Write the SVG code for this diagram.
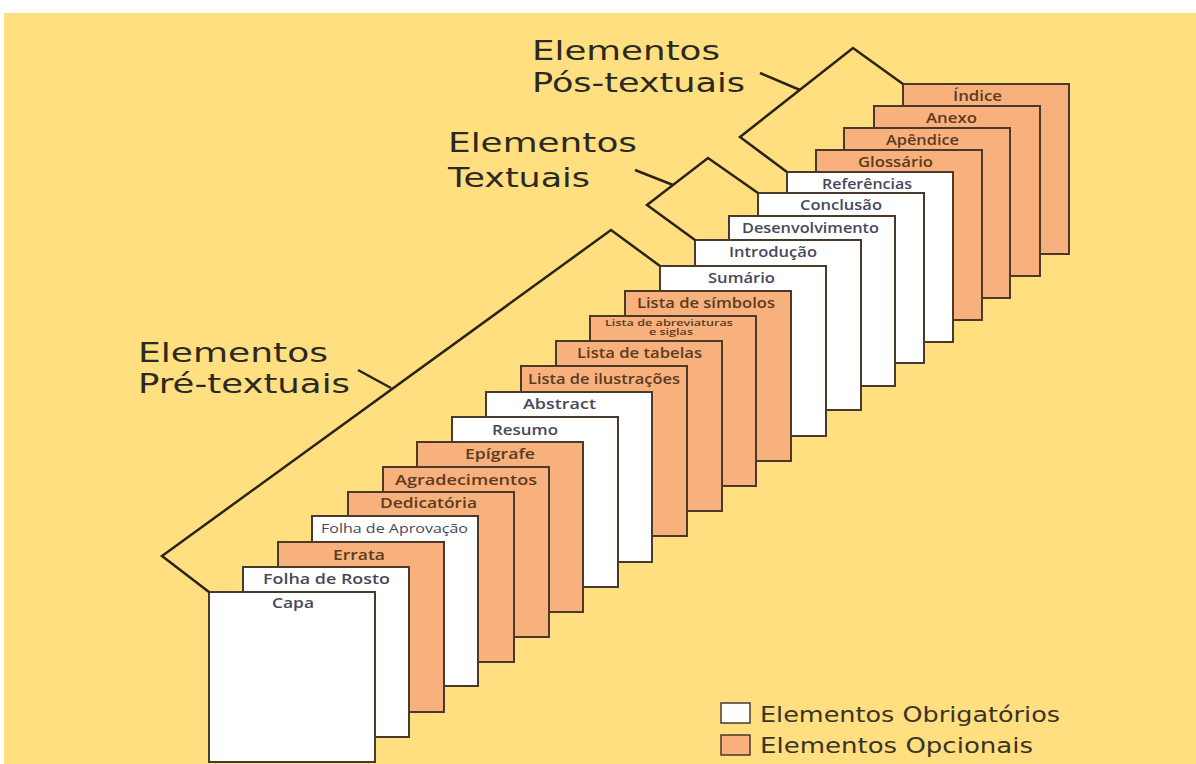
<svg xmlns="http://www.w3.org/2000/svg" width="1196" height="764" viewBox="0 0 1196 764">
<style>
.pg{stroke:#4a3a2b;stroke-width:2}
.w{fill:#ffffff}
.o{fill:#f8b17c}
.lb{font-family:"Open Sans","Liberation Sans",sans-serif;font-weight:600;font-size:13.5px}
.sm{font-size:8.5px}
.lw{fill:#48475a}
.lo{fill:#5a3b22}
.big{font-family:"DejaVu Sans","Liberation Sans",sans-serif;font-size:27px;fill:#2b2a22}
.leg{font-family:"DejaVu Sans","Liberation Sans",sans-serif;font-size:21px;fill:#3a3326}
.br{fill:none;stroke:#2b2417;stroke-width:2.5;stroke-linejoin:miter}
</style>
<rect x="0" y="0" width="1196" height="764" fill="#ffffff"/>
<rect x="4" y="13" width="1192" height="751" fill="#ffdf80"/>

<g id="indice"><rect class="pg o" x="903" y="84" width="166" height="170"/><text class="lb lo" x="953" y="101" textLength="49" lengthAdjust="spacingAndGlyphs">Índice</text></g>
<g id="anexo"><rect class="pg o" x="874" y="106" width="166" height="170"/><text class="lb lo" x="926" y="123" textLength="51" lengthAdjust="spacingAndGlyphs">Anexo</text></g>
<g id="apendice"><rect class="pg o" x="844" y="128" width="166" height="170"/><text class="lb lo" x="886" y="145" textLength="73" lengthAdjust="spacingAndGlyphs">Apêndice</text></g>
<g id="glossario"><rect class="pg o" x="816" y="150" width="166" height="170"/><text class="lb lo" x="858" y="167" textLength="75" lengthAdjust="spacingAndGlyphs">Glossário</text></g>
<g id="referencias"><rect class="pg w" x="787" y="172" width="166" height="170"/><text class="lb lw" x="822" y="189" textLength="90" lengthAdjust="spacingAndGlyphs">Referências</text></g>
<g id="conclusao"><rect class="pg w" x="758" y="193" width="166" height="170"/><text class="lb lw" x="800" y="210" textLength="82" lengthAdjust="spacingAndGlyphs">Conclusão</text></g>
<g id="desenvolvimento"><rect class="pg w" x="729" y="216" width="166" height="170"/><text class="lb lw" x="742" y="233" textLength="137" lengthAdjust="spacingAndGlyphs">Desenvolvimento</text></g>
<g id="introducao"><rect class="pg w" x="695" y="240" width="166" height="170"/><text class="lb lw" x="729" y="257" textLength="88" lengthAdjust="spacingAndGlyphs">Introdução</text></g>
<g id="sumario"><rect class="pg w" x="660" y="266" width="166" height="170"/><text class="lb lw" x="708" y="283" textLength="67" lengthAdjust="spacingAndGlyphs">Sumário</text></g>
<g id="lista-simbolos"><rect class="pg o" x="625" y="291" width="166" height="170"/><text class="lb lo" x="637" y="308" textLength="138" lengthAdjust="spacingAndGlyphs">Lista de símbolos</text></g>
<g id="lista-abreviaturas"><rect class="pg o" x="590" y="316" width="166" height="170"/><text class="lb lo sm" x="605" y="325.5" textLength="128" lengthAdjust="spacingAndGlyphs">Lista de abreviaturas</text><text class="lb lo sm" x="649" y="335" textLength="44" lengthAdjust="spacingAndGlyphs">e siglas</text></g>
<g id="lista-tabelas"><rect class="pg o" x="556" y="341" width="166" height="170"/><text class="lb lo" x="577" y="358" textLength="125" lengthAdjust="spacingAndGlyphs">Lista de tabelas</text></g>
<g id="lista-ilustracoes"><rect class="pg o" x="521" y="366" width="166" height="170"/><text class="lb lo" x="528" y="384" textLength="152" lengthAdjust="spacingAndGlyphs">Lista de ilustrações</text></g>
<g id="abstract"><rect class="pg w" x="486" y="392" width="166" height="170"/><text class="lb lw" x="523" y="409" textLength="73" lengthAdjust="spacingAndGlyphs">Abstract</text></g>
<g id="resumo"><rect class="pg w" x="452" y="417" width="166" height="170"/><text class="lb lw" x="492" y="435" textLength="66" lengthAdjust="spacingAndGlyphs">Resumo</text></g>
<g id="epigrafe"><rect class="pg o" x="417" y="442" width="166" height="170"/><text class="lb lo" x="465" y="459" textLength="70" lengthAdjust="spacingAndGlyphs">Epígrafe</text></g>
<g id="agradecimentos"><rect class="pg o" x="383" y="467" width="166" height="170"/><text class="lb lo" x="395" y="485" textLength="142" lengthAdjust="spacingAndGlyphs">Agradecimentos</text></g>
<g id="dedicatoria"><rect class="pg o" x="348" y="492" width="166" height="170"/><text class="lb lo" x="380" y="508" textLength="97" lengthAdjust="spacingAndGlyphs">Dedicatória</text></g>
<g id="folha-aprovacao"><rect class="pg w" x="312" y="516" width="166" height="170"/><text class="lb lw" x="321" y="533" style="font-weight:400" textLength="147" lengthAdjust="spacingAndGlyphs">Folha de Aprovação</text></g>
<g id="errata"><rect class="pg o" x="278" y="542" width="166" height="170"/><text class="lb lo" x="333" y="560" textLength="52" lengthAdjust="spacingAndGlyphs">Errata</text></g>
<g id="folha-rosto"><rect class="pg w" x="243" y="567" width="166" height="170"/><text class="lb lw" x="263" y="584" textLength="127" lengthAdjust="spacingAndGlyphs">Folha de Rosto</text></g>
<g id="capa"><rect class="pg w" x="209" y="592" width="166" height="170"/><text class="lb lw" x="272" y="608" textLength="42" lengthAdjust="spacingAndGlyphs">Capa</text></g>

<g id="connectors">
<polyline class="br" points="209,592 162,556 611,230 660,266"/>
<line class="br" x1="358" y1="370" x2="391" y2="388"/>
<polyline class="br" points="695,240 647,205 708,158 758,193"/>
<line class="br" x1="635" y1="170" x2="673" y2="185"/>
<polyline class="br" points="787,172 740,137 853,48 903,84"/>
<line class="br" x1="760" y1="73" x2="800" y2="90"/>
</g>

<g id="label-pre">
<text class="big" x="138" y="362" textLength="190" lengthAdjust="spacingAndGlyphs">Elementos</text>
<text class="big" x="138" y="393" textLength="212" lengthAdjust="spacingAndGlyphs">Pré-textuais</text>
</g>
<g id="label-textuais">
<text class="big" x="448" y="152" textLength="189" lengthAdjust="spacingAndGlyphs">Elementos</text>
<text class="big" x="448" y="187" textLength="142" lengthAdjust="spacingAndGlyphs">Textuais</text>
</g>
<g id="label-pos">
<text class="big" x="532" y="60" textLength="188" lengthAdjust="spacingAndGlyphs">Elementos</text>
<text class="big" x="532" y="92" textLength="213" lengthAdjust="spacingAndGlyphs">Pós-textuais</text>
</g>

<g id="legend">
<rect x="721" y="703" width="29" height="20" fill="#ffffff" stroke="#4a3a2b" stroke-width="1.5"/>
<text class="leg" x="760" y="722" textLength="300" lengthAdjust="spacingAndGlyphs">Elementos Obrigatórios</text>
<rect x="721" y="735" width="29" height="20" fill="#f8b17c" stroke="#4a3a2b" stroke-width="1.5"/>
<text class="leg" x="760" y="753" textLength="273" lengthAdjust="spacingAndGlyphs">Elementos Opcionais</text>
</g>
</svg>
